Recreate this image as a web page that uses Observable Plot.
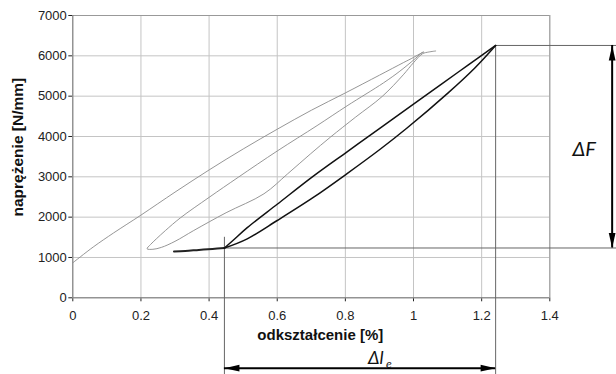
<!DOCTYPE html>
<html><head><meta charset="utf-8">
<script src="https://cdn.jsdelivr.net/npm/d3@7"></script>
<script src="https://cdn.jsdelivr.net/npm/@observablehq/plot@0.6"></script>
<style>body{margin:0;background:#fff}</style>
</head><body><div id="chart"></div>
<script>
// ---- data (strain %, stress N/mm) ----
const strainTicks = [0, 0.2, 0.4, 0.6, 0.8, 1, 1.2, 1.4];
const stressTicks = [0, 1000, 2000, 3000, 4000, 5000, 6000, 7000];

const grayLoading = [[0,868],[0.06,1260],[0.12,1610],[0.2,2050],[0.3,2620],[0.4,3170],[0.5,3690],[0.6,4180],[0.7,4650],[0.8,5080],[0.9,5520],[0.97,5830],[1.0,5960],[1.02,6055],[1.03,6095]];
const grayUnloading = [[1.025,6080],[1.005,5930],[0.96,5620],[0.912,5330],[0.805,4760],[0.717,4270],[0.6,3640],[0.486,2991],[0.4,2490],[0.316,1984],[0.272,1669],[0.245,1460],[0.228,1320],[0.218,1215]];
const grayReloading = [[0.235,1203],[0.26,1250],[0.3,1400],[0.355,1669],[0.45,2110],[0.561,2579],[0.63,3070],[0.698,3571],[0.756,3983],[0.83,4480],[0.908,4992],[0.97,5530],[1.0,5830],[1.026,6050],[1.045,6095],[1.065,6120]];

const blackStart = [[0.297,1148],[0.33,1162],[0.37,1188],[0.41,1212],[0.445,1235]];
const blackLower = [[0.445,1235],[0.512,1463],[0.6,1917],[0.707,2495],[0.805,3080],[0.903,3690],[0.981,4210],[1.1,5070],[1.18,5700],[1.241,6257]];
const blackUpper = [[0.445,1235],[0.47,1420],[0.512,1740],[0.6,2320],[0.707,3023],[0.805,3620],[0.903,4215],[1.0,4800],[1.079,5280],[1.16,5770],[1.241,6257]];

const xLabel = "odkształcenie [%]";
const yLabel = "naprężenie [N/mm]";
const labelF = "ΔF";
const labelL = "Δl";
const labelLsub = "e";

// annotation placement (data units)
const arrowX = 1.583;      // vertical ΔF arrow
const arrowY = -1746;      // horizontal Δl arrow
const edgeX = 1.65;        // right edge of the picture
const edgeY = -2200;       // bottom edge of the picture
const jointLineTop = 1500; // top of the thin line at the start point

const peak = blackLower[blackLower.length - 1];
const joint = blackStart[blackStart.length - 1];
const grayPath = grayLoading.concat(grayUnloading, grayReloading);

const head = {draw(ctx, size) {
  const s = Math.sqrt(size / Math.PI);
  ctx.moveTo(0, 0); ctx.lineTo(0.45 * s, 2 * s); ctx.lineTo(-0.45 * s, 2 * s); ctx.closePath();
}};
const heads = [
  {x: arrowX, y: peak[1], rot: 0},
  {x: arrowX, y: joint[1], rot: 180},
  {x: joint[0], y: arrowY, rot: -90},
  {x: peak[0], y: arrowY, rot: 90}
];

const font = "'Liberation Sans', Arial, sans-serif";
const annFont = "Lato, 'Open Sans', sans-serif";

const chart = Plot.plot({
  width: 616, height: 374,
  marginLeft: 72.3, marginRight: 66.7, marginTop: 15, marginBottom: 76.7,
  style: {fontFamily: font, fontSize: "13px", color: "#222", background: "#fff", overflow: "hidden"},
  x: {domain: [0, 1.4], ticks: strainTicks, tickSize: 4, tickPadding: 9, label: null, tickFormat: d => String(d)},
  y: {domain: [0, 7000], ticks: stressTicks, tickSize: 4, tickPadding: 2, label: null, tickFormat: d => String(d)},
  marks: [
    Plot.ruleX(strainTicks, {stroke: "#c4c4c4", strokeWidth: 1}),
    Plot.ruleY(stressTicks, {stroke: "#c4c4c4", strokeWidth: 1}),
    Plot.ruleX([1.4], {stroke: "#999"}),
    Plot.ruleY([7000], {stroke: "#999"}),
    Plot.ruleX([0], {stroke: "#777"}),
    Plot.ruleY([0], {stroke: "#777"}),
    // thin annotation lines
    Plot.ruleX([peak[0]], {y1: peak[1], y2: edgeY, stroke: "#666", strokeWidth: 1}),
    Plot.ruleY([peak[1]], {x1: peak[0], x2: edgeX, stroke: "#666", strokeWidth: 1}),
    Plot.ruleY([joint[1]], {x1: joint[0], x2: edgeX, stroke: "#666", strokeWidth: 1}),
    Plot.ruleX([joint[0]], {y1: jointLineTop, y2: edgeY, stroke: "#666", strokeWidth: 1}),
    // curves
    Plot.line(grayPath, {x: d => d[0], y: d => d[1], stroke: "#8a8a8a", strokeWidth: 0.9, curve: "catmull-rom"}),
    Plot.line(blackStart, {x: d => d[0], y: d => d[1], stroke: "#222", strokeWidth: 2, curve: "catmull-rom"}),
    Plot.line(blackLower, {x: d => d[0], y: d => d[1], stroke: "#111", strokeWidth: 1.5, curve: "catmull-rom"}),
    Plot.line(blackUpper, {x: d => d[0], y: d => d[1], stroke: "#111", strokeWidth: 1.5, curve: "catmull-rom"}),
    // arrows
    Plot.ruleX([arrowX], {y1: peak[1], y2: joint[1], stroke: "#000", strokeWidth: 2}),
    Plot.ruleY([arrowY], {x1: joint[0], x2: peak[0], stroke: "#000", strokeWidth: 2}),
    Plot.dot(heads, {x: "x", y: "y", rotate: "rot", symbol: head, r: 7.5, fill: "#000", stroke: "none"}),
    Plot.text([labelF], {x: arrowX, y: (peak[1] + joint[1]) / 2, text: d => d, dx: -28, dy: 3, fontSize: 20, fontStyle: "italic", fontFamily: annFont, fill: "#111"}),
    Plot.text([labelL], {x: (joint[0] + peak[0]) / 2, y: arrowY, text: d => d, dx: 8, dy: -4, textAnchor: "start", lineAnchor: "bottom", fontSize: 18, fontStyle: "italic", fontFamily: annFont, fill: "#111"}),
    Plot.text([labelLsub], {x: (joint[0] + peak[0]) / 2, y: arrowY, text: d => d, dx: 26, dy: 0, textAnchor: "start", lineAnchor: "bottom", fontSize: 12, fontStyle: "italic", fontFamily: annFont, fill: "#111"}),
    // axis titles
    Plot.text([xLabel], {frameAnchor: "bottom", text: d => d, dx: 9, dy: 42, lineAnchor: "bottom", fontSize: 15, fontWeight: "bold", fill: "#111"}),
    Plot.text([yLabel], {frameAnchor: "left", text: d => d, textAnchor: "middle", dx: -55, dy: -9.5, rotate: -90, fontSize: 15.5, fontWeight: "bold", fill: "#111"})
  ]
});
document.getElementById("chart").appendChild(chart);
</script>
</body></html>
